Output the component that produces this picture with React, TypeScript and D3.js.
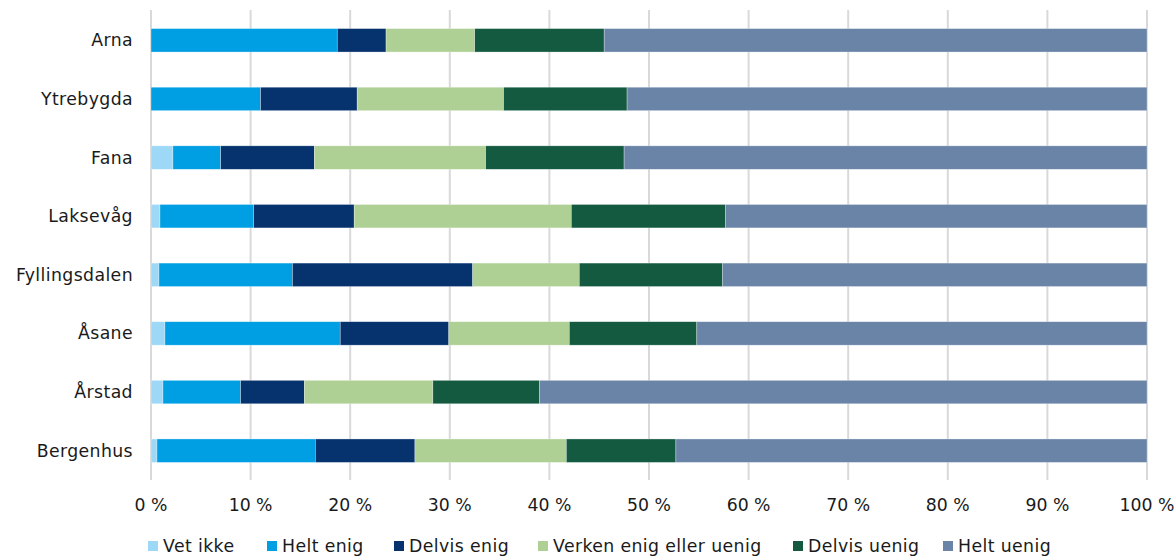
import React from "react";
import * as d3 from "d3";

const categories = ["Arna", "Ytrebygda", "Fana", "Laksevåg", "Fyllingsdalen", "Åsane", "Årstad", "Bergenhus"];
const seriesNames = ["Vet ikke", "Helt enig", "Delvis enig", "Verken enig eller uenig", "Delvis uenig", "Helt uenig"];
const vetIkke = [0, 0, 2.2, 0.9, 0.8, 1.4, 1.2, 0.6];
const heltEnig = [18.7, 11.0, 4.8, 9.4, 13.4, 17.6, 7.8, 15.9];
const delvisEnig = [4.9, 9.7, 9.4, 10.1, 18.1, 10.9, 6.4, 10.0];
const verken = [8.9, 14.7, 17.2, 21.8, 10.7, 12.1, 12.9, 15.2];
const delvisUenig = [13.0, 12.4, 13.9, 15.5, 14.4, 12.8, 10.7, 11.0];
const heltUenig = [54.5, 52.2, 52.5, 42.3, 42.6, 45.2, 61.0, 47.3];
const tickValues = [0, 10, 20, 30, 40, 50, 60, 70, 80, 90, 100];
const colors = ["#9dd9f7", "#009fe3", "#06326e", "#afd095", "#135a41", "#6a84a8"];
const legendX = [148, 267, 394, 538, 793, 943];

const seriesValues = [vetIkke, heltEnig, delvisEnig, verken, delvisUenig, heltUenig];

export default function App() {
  const W = 1176, H = 560;
  const x = d3.scaleLinear().domain([0, 100]).range([151, 1147]);
  const y = d3.scaleBand().domain(categories).range([11, 480]).paddingInner(0.6).paddingOuter(0.3);
  const rows = categories.map((c, i) => {
    const obj: any = { cat: c };
    seriesNames.forEach((s, j) => (obj[s] = seriesValues[j][i]));
    return obj;
  });
  const stacked = d3.stack().keys(seriesNames)(rows);
  const font = "'DejaVu Sans', sans-serif";
  const fs = 17.3;
  const ls = 0.4;
  return (
    <svg width={W} height={H} style={{ position: "absolute", left: 0, top: 0, background: "#fff" }} fontFamily={font}>
      {tickValues.map((t) => (
        <line key={"g" + t} x1={x(t)} x2={x(t)} y1={10} y2={480} stroke="#d9d9d9" strokeWidth={2} />
      ))}
      {stacked.map((layer, j) => (
        <g key={layer.key} fill={colors[j]}>
          {layer.map((d, i) => (
            <rect
              key={i}
              x={x(d[0])}
              y={y(categories[i])}
              width={Math.max(0, x(d[1]) - x(d[0]))}
              height={y.bandwidth()}
              stroke="#ffffff"
              strokeOpacity={0.5}
              strokeWidth={0.6}
            />
          ))}
        </g>
      ))}
      {categories.map((c) => (
        <text key={c} x={133} y={(y(c) as number) + y.bandwidth() / 2} dy="0.35em" textAnchor="end" fontSize={fs} letterSpacing={ls} fill="#1a1a1a">
          {c}
        </text>
      ))}
      {tickValues.map((t) => (
        <text key={"t" + t} x={x(t)} y={511} textAnchor="middle" fontSize={fs} fill="#1a1a1a">
          {t + " %"}
        </text>
      ))}
      {seriesNames.map((s, j) => (
        <g key={s} transform={`translate(${legendX[j]},0)`}>
          <rect x={0} y={541} width={10} height={10} fill={colors[j]} />
          <text x={15} y={552} fontSize={fs} letterSpacing={ls} fill="#1a1a1a">
            {s}
          </text>
        </g>
      ))}
    </svg>
  );
}
